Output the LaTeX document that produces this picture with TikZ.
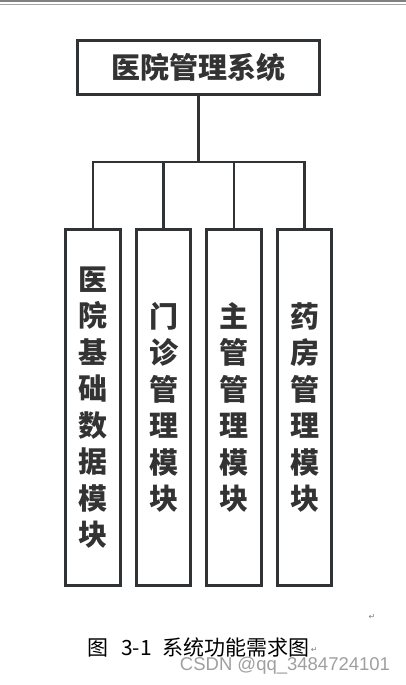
\documentclass[tikz,border=0pt]{standalone}
\usepackage{fontspec}
\usepackage{tikz}
\usetikzlibrary{positioning}
\newfontfamily\cjk{Noto Sans CJK SC}
\newfontfamily\wmfont{Liberation Sans}
\newfontfamily\symfont{DejaVu Sans}
\definecolor{linegray}{HTML}{303336}
\definecolor{textgray}{HTML}{333333}
\tikzstyle{sysbox}=[draw=linegray, line width=2.6pt, minimum width=242pt, minimum height=54pt, inner sep=0pt, text=textgray, font=\cjk\bfseries\fontsize{29}{36}\selectfont]
\tikzstyle{modbox}=[draw=linegray, line width=2.6pt, minimum width=54.5pt, minimum height=356pt, inner sep=0pt, align=center, text=textgray, font=\cjk\bfseries\fontsize{29}{36.5}\selectfont]
\tikzstyle{link}=[draw=linegray, line width=2.6pt]
\tikzstyle{retmark}=[inner sep=0pt, text=gray, font=\symfont\fontsize{8}{8}\selectfont]

\begin{document}
\begin{tikzpicture}[x=1pt,y=-1pt]
	\useasboundingbox (0,0) rectangle (406,685);
	% page edge
	\fill[gray] (0,0) rectangle (406,2.3);
	\fill[gray!70] (0,3.7) rectangle (406,4.8);
	\node[sysbox] (sys) at (198.5,67.5) {医院管理系统};
	\node[modbox] (m1) at (93,407.5) {医\\院\\基\\础\\数\\据\\模\\块};
	\node[modbox] (m2) at (163.5,407.5) {门\\诊\\管\\理\\模\\块};
	\node[modbox] (m3) at (234,407.5) {主\\管\\管\\理\\模\\块};
	\node[modbox] (m4) at (304.5,407.5) {药\\房\\管\\理\\模\\块};
	\coordinate (bus) at (198.5,162);
	\draw[link] (sys.south) -- (bus);
	\foreach \i in {1,...,4}
		\draw[link] (bus) -| (m\i.north);
	\node[retmark] (ret1) at (372,617) {↵};
	\node[inner sep=0pt, font=\cjk\fontsize{21}{21}\selectfont] (cap) at (198.5,647) {图\hspace{0.6em}3-1\hspace{0.5em}系统功能需求图};
	\node[retmark, right=1pt of cap.east, yshift=-3pt, anchor=west] (ret2) {↵};
	\node[inner sep=0pt, text=gray!75, font=\wmfont\fontsize{18.5}{18.5}\selectfont] (wm) at (285,666) {CSDN @qq\_3484724101};
\end{tikzpicture}
\end{document}
